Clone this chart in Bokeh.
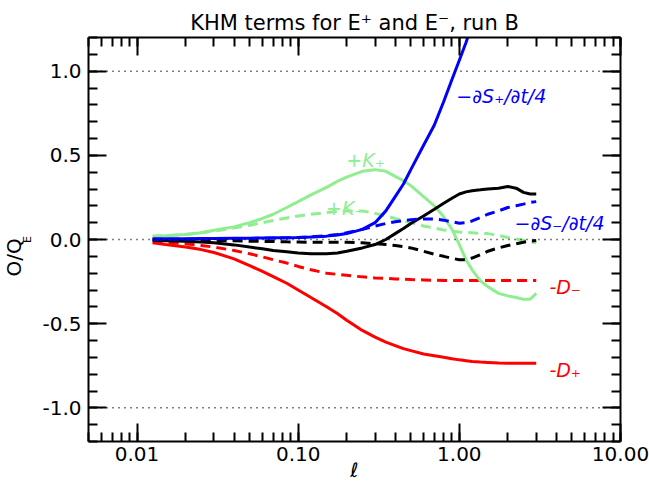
from bokeh.plotting import figure
from bokeh.models import (LogAxis, LinearAxis, LogTicker, SingleIntervalTicker,
                          PrintfTickFormatter, Span, Label, Range1d, Title)
from bokeh.embed import file_html
from bokeh.resources import INLINE

# ---- data ----
ell = [0.0125, 0.015, 0.02, 0.025, 0.03, 0.04, 0.05, 0.06, 0.07, 0.085, 0.1, 0.12,
       0.15, 0.175, 0.2, 0.25, 0.3, 0.35, 0.4, 0.45, 0.5, 0.6, 0.7, 0.8, 0.9, 1.0,
       1.1, 1.2, 1.35, 1.5, 1.75, 2.0, 2.25, 2.5, 2.75, 3.0]

dS_plus = [0.005, 0.005, 0.005, 0.006, 0.006, 0.007, 0.008, 0.009, 0.01, 0.011, 0.012, 0.015,
           0.02, 0.027, 0.035, 0.06, 0.1, 0.17, 0.255, 0.33, 0.415, 0.56, 0.68, 0.82, 0.95, 1.065,
           1.17, 1.28, 1.42, 1.55, 1.75, 1.9, 2.0, 2.1, 2.2, 2.25]
dS_minus = [0.0, 0.001, 0.002, 0.003, 0.004, 0.005, 0.006, 0.007, 0.008, 0.01, 0.012, 0.015,
            0.022, 0.03, 0.04, 0.06, 0.08, 0.095, 0.105, 0.112, 0.118, 0.122, 0.122, 0.115, 0.105, 0.097,
            0.1, 0.11, 0.13, 0.15, 0.17, 0.19, 0.2, 0.21, 0.22, 0.225]
K_plus = [0.02, 0.022, 0.03, 0.04, 0.055, 0.075, 0.1, 0.125, 0.15, 0.19, 0.225, 0.265,
          0.31, 0.345, 0.37, 0.405, 0.415, 0.405, 0.375, 0.35, 0.32, 0.255, 0.2, 0.135, 0.06, -0.03,
          -0.12, -0.18, -0.245, -0.28, -0.32, -0.335, -0.345, -0.355, -0.355, -0.32]
K_minus = [0.02, 0.022, 0.03, 0.04, 0.05, 0.068, 0.085, 0.1, 0.113, 0.128, 0.14, 0.15,
           0.16, 0.167, 0.17, 0.17, 0.155, 0.14, 0.125, 0.112, 0.1, 0.08, 0.068, 0.057, 0.05, 0.045,
           0.042, 0.04, 0.037, 0.035, 0.025, 0.012, 0.003, -0.005, -0.013, -0.02]
total_plus = [-0.005, -0.007, -0.01, -0.015, -0.02, -0.032, -0.045, -0.055, -0.065, -0.073, -0.08, -0.084,
              -0.085, -0.08, -0.07, -0.05, -0.03, 0.0, 0.035, 0.065, 0.095, 0.14, 0.18, 0.215, 0.245, 0.27,
              0.283, 0.29, 0.295, 0.3, 0.305, 0.315, 0.305, 0.28, 0.27, 0.27]
total_minus = [0.0, -0.001, -0.003, -0.005, -0.006, -0.008, -0.01, -0.011, -0.012, -0.014, -0.015, -0.016,
               -0.016, -0.016, -0.016, -0.02, -0.025, -0.03, -0.036, -0.042, -0.05, -0.07, -0.088, -0.1, -0.112, -0.12,
               -0.12, -0.11, -0.09, -0.07, -0.05, -0.036, -0.025, -0.016, -0.01, -0.006]
D_plus = [-0.02, -0.03, -0.045, -0.06, -0.077, -0.115, -0.155, -0.19, -0.22, -0.26, -0.3, -0.345,
          -0.4, -0.44, -0.48, -0.54, -0.58, -0.61, -0.63, -0.648, -0.66, -0.68, -0.69, -0.7, -0.708, -0.715,
          -0.72, -0.725, -0.728, -0.73, -0.733, -0.735, -0.735, -0.735, -0.735, -0.735]
D_minus = [-0.015, -0.018, -0.025, -0.035, -0.045, -0.065, -0.085, -0.103, -0.12, -0.14, -0.16, -0.18,
           -0.2, -0.207, -0.213, -0.222, -0.228, -0.231, -0.234, -0.236, -0.238, -0.24, -0.242, -0.243, -0.243, -0.244,
           -0.244, -0.244, -0.244, -0.244, -0.244, -0.244, -0.244, -0.244, -0.244, -0.244]

ref_levels = [-1.0, 0.0, 1.0]

title_text = "KHM terms for E\u207a and E\u207b, run B"
FONT = "DejaVu Sans"
BLUE, RED, GREEN, BLACK = "#0000FF", "#FF0000", "#90EE90", "#000000"

p = figure(width=649, height=487, x_axis_type="log",
           x_range=Range1d(0.005, 10), y_range=Range1d(-1.2, 1.2),
           output_backend="svg", toolbar_location=None,
           min_border_left=88, min_border_right=29, min_border_top=37, min_border_bottom=46,
           title=title_text)
p.outline_line_color = None
p.grid.visible = False
p.background_fill_color = "white"
p.border_fill_color = "white"

p.title.align = "center"
p.title.text_font = FONT
p.title.text_font_size = "21px"
p.title.text_font_style = "normal"
p.title.text_color = "black"
p.title.standoff = 6

xticker = LogTicker(num_minor_ticks=10)
yticker = SingleIntervalTicker(interval=0.5, num_minor_ticks=5)


def style(ax, labels=True):
    ax.axis_line_width = 2
    ax.major_tick_line_width = 2
    ax.minor_tick_line_width = 2
    ax.major_tick_in = 18
    ax.major_tick_out = 0
    ax.minor_tick_in = 9
    ax.minor_tick_out = 0
    ax.major_label_text_font = FONT
    ax.major_label_text_font_size = "20px" if labels else "2px"
    ax.major_label_text_color = "black"
    if not labels:
        ax.major_label_text_alpha = 0
        ax.major_label_standoff = 0


xa = p.xaxis[0]
xa.ticker = xticker
xa.formatter = PrintfTickFormatter(format="%.2f")
xa.major_label_standoff = 5
style(xa)
xa.axis_label = "\u2113"
xa.axis_label_text_font = FONT
xa.axis_label_text_font_size = "20px"
xa.axis_label_text_font_style = "normal"
xa.axis_label_text_color = "black"
xa.axis_label_standoff = -6

ya = p.yaxis[0]
ya.ticker = yticker
ya.formatter = PrintfTickFormatter(format="%.1f")
ya.major_label_standoff = 7
style(ya)
# subscript "E" of the y title sits in the axis-label slot
ya.axis_label = "E"
ya.axis_label_text_font = FONT
ya.axis_label_text_font_size = "11px"
ya.axis_label_text_font_style = "normal"
ya.axis_label_text_color = "black"
ya.axis_label_standoff = 5

top = LogAxis(ticker=LogTicker(num_minor_ticks=10))
style(top, labels=False)
p.add_layout(top, "above")
right = LinearAxis(ticker=SingleIntervalTicker(interval=0.5, num_minor_ticks=5))
style(right, labels=False)
p.add_layout(right, "right")

# main part of the y title
p.add_layout(Title(text="O/Q", text_font=FONT, text_font_size="20px", text_font_style="normal",
                   text_color="black", align="left", offset=165, vertical_align="bottom",
                   standoff=-14), "left")

for lv in ref_levels:
    p.add_layout(Span(location=lv, dimension="width", line_color="black",
                      line_dash="1 5", line_width=1.5))

DASH = "10 6"
lw = 3
p.line(ell, D_plus, color=RED, line_width=lw)
p.line(ell, D_minus, color=RED, line_width=lw, line_dash=DASH)
p.line(ell, K_plus, color=GREEN, line_width=lw)
p.line(ell, K_minus, color=GREEN, line_width=lw, line_dash=DASH)
p.line(ell, total_plus, color=BLACK, line_width=lw)
p.line(ell, total_minus, color=BLACK, line_width=lw, line_dash=DASH)
p.line(ell, dS_minus, color=BLUE, line_width=lw, line_dash=DASH)
p.line(ell, dS_plus, color=BLUE, line_width=lw)

# curve labels (anchor = left end of baseline, in data units)
curve_labels = [
    ("\u2212\u2202S\u208a/\u2202t/4", 0.958, 0.85, BLUE),
    ("\u2212\u2202S\u208b/\u2202t/4", 2.2, 0.097, BLUE),
    ("+K\u208a", 0.199, 0.474, GREEN),
    ("+K\u208b", 0.149, 0.189, GREEN),
    ("-D\u208b", 3.62, -0.28, RED),
    ("-D\u208a", 3.62, -0.776, RED),
]
for txt, lx, ly, col in curve_labels:
    p.add_layout(Label(x=lx, y=ly, text=txt, text_color=col, text_font=FONT,
                       text_font_size="19px", text_font_style="italic",
                       text_align="left", text_baseline="alphabetic"))

open("out.html", "w").write(file_html(p, INLINE))
